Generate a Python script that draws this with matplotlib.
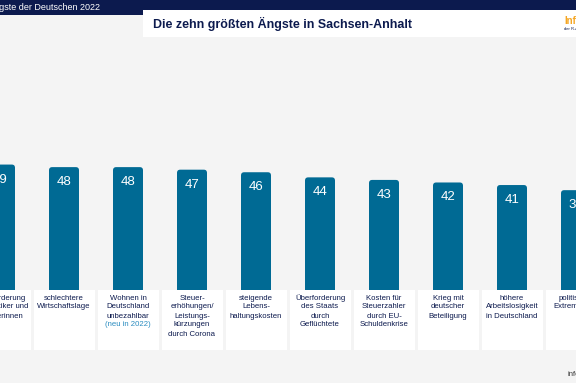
import matplotlib.pyplot as plt
from matplotlib.patches import FancyBboxPatch, Rectangle

plt.rcParams['font.family'] = ['Liberation Sans', 'DejaVu Sans']

# data (values in percent)
labels = [
    'Überforderung\nder Politiker und\nPolitikerinnen',
    'schlechtere\nWirtschaftslage',
    'Wohnen in\nDeutschland\nunbezahlbar',
    'Steuer-\nerhöhungen/\nLeistungs-\nkürzungen\ndurch Corona',
    'steigende\nLebens-\nhaltungskosten',
    'Überforderung\ndes Staats\ndurch\nGeflüchtete',
    'Kosten für\nSteuerzahler\ndurch EU-\nSchuldenkrise',
    'Krieg mit\ndeutscher\nBeteiligung',
    'höhere\nArbeitslosigkeit\nin Deutschland',
    'politischer\nExtremismus',
]
values = [49, 48, 48, 47, 46, 44, 43, 42, 41, 39]
new_flag = [False, False, True, False, False, False, False, False, False, False]

bar_color = '#006a94'
navy = '#0c1a4e'
bg = '#f4f4f4'

W, H = 576, 383
fig = plt.figure(figsize=(W / 100, H / 100), dpi=100)
fig.patch.set_facecolor(bg)

# axes spans the whole figure; one x unit = 64 px, one y unit = 2.56 px
ax = fig.add_axes([0, 0, 1, 1])
ax.set_facecolor(bg)
px_x = 64.0
px_y = 2.56
ax.set_xlim(0, W / px_x)
ax.set_ylim(-(H - 290) / px_y, 290 / px_y)
ax.axis('off')

bar_w = 30 / px_x
line_h = 9.0
for i, v in enumerate(values):
    bar = FancyBboxPatch((i - bar_w / 2, -3), bar_w, v + 3,
                         boxstyle='round,pad=0,rounding_size=0.05',
                         mutation_aspect=px_x / px_y,
                         fc=bar_color, ec='none', zorder=2)
    ax.add_patch(bar)
    ax.text(i, v - 15 / px_y, str(v), ha='center', va='center',
            color='white', fontsize=9.5, zorder=3)

    # white label box under each bar, one text line per row
    box_w = 61 / px_x
    ax.add_patch(Rectangle((i - box_w / 2, -60 / px_y), box_w, 60 / px_y,
                           fc='white', ec='none', zorder=3))
    rows = labels[i].split('\n')
    for k, row in enumerate(rows):
        ax.text(i, -(8 + k * line_h) / px_y, row, ha='center', va='center',
                fontsize=5.6, color=navy, zorder=4)
    if new_flag[i]:
        ax.text(i, -(8 + len(rows) * line_h) / px_y, '(neu in 2022)',
                ha='center', va='center', fontsize=5.6, color='#2a8cc0',
                zorder=4)


def fx(x):
    return x / W


def fy(y):
    return 1 - y / H


# header band and title box
fig.patches.append(Rectangle((0, fy(15)), 1, 15 / H, transform=fig.transFigure,
                             fc=navy, ec='none', zorder=5))
fig.patches.append(Rectangle((fx(143), fy(37)), 1, 27 / H, transform=fig.transFigure,
                             fc='white', ec='none', zorder=6))
fig.text(fx(100), fy(7.5), 'Die Ängste der Deutschen 2022', ha='right', va='center',
         color='white', fontsize=6.5, zorder=7)
fig.text(fx(153), fy(24), 'Die zehn größten Ängste in Sachsen-Anhalt', ha='left',
         va='center', color=navy, fontsize=8.9, fontweight='bold', zorder=7)
fig.text(fx(564), fy(21), 'Info', ha='left', va='center', color='#f5a623',
         fontsize=7, fontweight='bold', zorder=7)
fig.text(fx(564), fy(29), 'der R+V', ha='left', va='center', color=navy,
         fontsize=3, zorder=7)
fig.text(fx(568), fy(374), 'infocenter', ha='left', va='center', color='#333333',
         fontsize=5.5, zorder=7)

fig.savefig('out.png', dpi=100, facecolor=bg)
